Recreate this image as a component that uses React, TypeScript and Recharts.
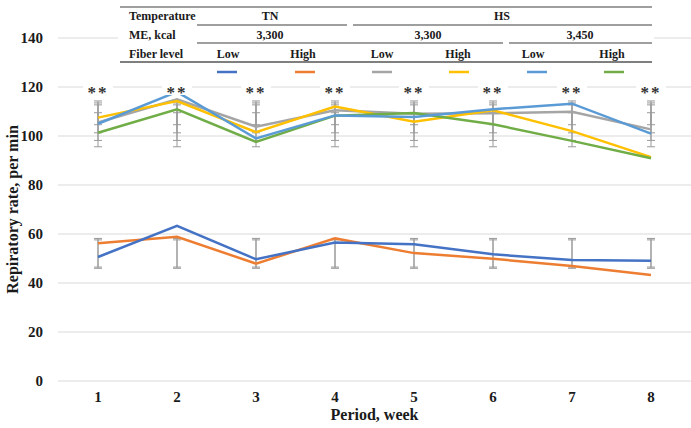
import React from 'react';
import { LineChart, Line, XAxis, YAxis, CartesianGrid, ErrorBar, LabelList } from 'recharts';

const periods = ['1', '2', '3', '4', '5', '6', '7', '8'];

// TN, ME 3,300
const tnLow = [50.6, 63.3, 49.7, 56.5, 55.8, 51.7, 49.4, 49.1];
const tnHigh = [56.2, 58.9, 47.9, 58.2, 52.2, 49.9, 46.9, 43.3];
// HS, ME 3,300
const hs3300Low = [105.5, 115, 103.8, 110.5, 109.1, 109.3, 109.9, 102.7];
const hs3300High = [107.5, 114.3, 101.6, 112, 105.8, 110.5, 102, 91.4];
// HS, ME 3,450
const hs3450Low = [105, 118, 99, 108.4, 107.8, 110.9, 113.2, 101];
const hs3450High = [101.3, 110.9, 97.6, 108.3, 109.4, 104.8, 98, 90.9];

// error bars are drawn around a fixed level for each group, as in the source figure
const hsErrCenter = [105, 105, 105, 105, 105, 105, 105, 105];
const hsErrA = [9.4, 9.3];
const hsErrB = [6.8, 8.5];
const hsErrC = [3.7, 7.7];
const hsErrD = [0.4, 4.5];
const tnErrCenter = [52, 52, 52, 52, 52, 52, 52, 52];
const tnErrA = [6.0, 6.2];
const tnErrB = [5.5, 5.6];

// significance markers
const sigLevel = [119.2, 119.2, 119.2, 119.2, 119.2, 119.2, 119.2, 119.2];
const sigText = ['**', '**', '**', '**', '**', '**', '**', '**'];

const yTicks = [0, 20, 40, 60, 80, 100, 120, 140];

const data = periods.map((p, i) => ({
  period: p,
  tnLow: tnLow[i],
  tnHigh: tnHigh[i],
  hs3300Low: hs3300Low[i],
  hs3300High: hs3300High[i],
  hs3450Low: hs3450Low[i],
  hs3450High: hs3450High[i],
  hsCenter: hsErrCenter[i],
  hsA: hsErrA,
  hsB: hsErrB,
  hsC: hsErrC,
  hsD: hsErrD,
  tnCenter: tnErrCenter[i],
  tnA: tnErrA,
  tnB: tnErrB,
  sig: sigLevel[i],
  sigText: sigText[i],
}));

const FONT = '"Liberation Serif", "Times New Roman", serif';
const ERR = '#999999';

const SigMark = (props: any) => {
  const { x, y, value } = props;
  return (
    <g>
      <rect x={x - 15} y={y - 8} width={30} height={14} fill="#fff" />
      <text x={x} y={y + 9} textAnchor="middle" fontFamily={FONT} fontWeight="bold" fontSize={17} fill="#333" letterSpacing={2}>
        {value}
      </text>
    </g>
  );
};

const HeaderTable = () => {
  const t = { fontFamily: FONT, fontWeight: 'bold' as const, fontSize: 12, fill: '#1a1a1a' };
  const ln = { stroke: '#7f7f7f', strokeWidth: 1.3 };
  return (
    <svg width={691} height={80} style={{ position: 'absolute', left: 0, top: 0 }}>
      <rect x={118} y={0} width={536} height={79} fill="#fff" />
      <line x1={120} y1={7} x2={652} y2={7} {...ln} />
      <text x={129} y={20} {...t}>Temperature</text>
      <text x={270} y={20} textAnchor="middle" {...t}>TN</text>
      <text x={502} y={20} textAnchor="middle" {...t}>HS</text>
      <line x1={197} y1={25} x2={347} y2={25} {...ln} />
      <line x1={353} y1={25} x2={652} y2={25} {...ln} />
      <text x={129} y={39} {...t}>ME, kcal</text>
      <text x={270} y={39} textAnchor="middle" {...t}>3,300</text>
      <text x={428} y={39} textAnchor="middle" {...t}>3,300</text>
      <text x={580} y={39} textAnchor="middle" {...t}>3,450</text>
      <line x1={197} y1={43} x2={503} y2={43} {...ln} />
      <line x1={509} y1={43} x2={652} y2={43} {...ln} />
      <text x={129} y={58} {...t}>Fiber level</text>
      <text x={228} y={58} textAnchor="middle" {...t}>Low</text>
      <text x={303} y={58} textAnchor="middle" {...t}>High</text>
      <text x={382} y={58} textAnchor="middle" {...t}>Low</text>
      <text x={458} y={58} textAnchor="middle" {...t}>High</text>
      <text x={533} y={58} textAnchor="middle" {...t}>Low</text>
      <text x={612} y={58} textAnchor="middle" {...t}>High</text>
      <line x1={120} y1={62} x2={652} y2={62} stroke="#7f7f7f" strokeWidth={1.8} />
      <line x1={217} y1={72} x2={237} y2={72} stroke="#4472C4" strokeWidth={2.5} />
      <line x1={295} y1={72} x2={315} y2={72} stroke="#ED7D31" strokeWidth={2.5} />
      <line x1={372} y1={72} x2={392} y2={72} stroke="#A5A5A5" strokeWidth={2.5} />
      <line x1={449} y1={72} x2={469} y2={72} stroke="#FFC000" strokeWidth={2.5} />
      <line x1={527} y1={72} x2={547} y2={72} stroke="#5B9BD5" strokeWidth={2.5} />
      <line x1={604} y1={72} x2={624} y2={72} stroke="#70AD47" strokeWidth={2.5} />
    </svg>
  );
};

export default function App() {
  const tick = { fontFamily: FONT, fontWeight: 'bold' as const, fontSize: 15, fill: '#1a1a1a' };
  return (
    <div style={{ position: 'fixed', left: 0, top: 0, width: 691, height: 428, background: '#fff', overflow: 'hidden' }}>
      <LineChart width={691} height={428} data={data} margin={{ top: 38, right: 0, bottom: 0, left: 0 }}>
        <CartesianGrid vertical={false} stroke="#d9d9d9" />
        <XAxis
          dataKey="period"
          axisLine={false}
          tickLine={false}
          tickSize={0}
          tickMargin={10}
          height={47}
          padding={{ left: 40, right: 40 }}
          tick={tick}
          label={{ value: 'Period, week', position: 'insideBottom', offset: 8, style: { fontFamily: FONT, fontWeight: 'bold', fontSize: 16, fill: '#1a1a1a' } }}
        />
        <YAxis
          domain={[0, 140]}
          ticks={yTicks}
          width={58}
          axisLine={false}
          tickLine={false}
          tickSize={0}
          tickMargin={15}
          tick={tick}
          label={{ value: 'Repiratory rate, per min', angle: -90, position: 'insideLeft', offset: 12, style: { textAnchor: 'middle', fontFamily: FONT, fontWeight: 'bold', fontSize: 16, fill: '#1a1a1a' } }}
        />
        <Line dataKey="sig" stroke="none" dot={false} activeDot={false} legendType="none" isAnimationActive={false}>
          <LabelList dataKey="sigText" content={SigMark} />
        </Line>
        <Line dataKey="hsCenter" stroke="none" dot={false} activeDot={false} legendType="none" isAnimationActive={false}>
          <ErrorBar dataKey="hsA" width={4} stroke={ERR} strokeWidth={1} direction="y" isAnimationActive={false} />
          <ErrorBar dataKey="hsB" width={4} stroke={ERR} strokeWidth={1} direction="y" isAnimationActive={false} />
          <ErrorBar dataKey="hsC" width={4} stroke={ERR} strokeWidth={1} direction="y" isAnimationActive={false} />
          <ErrorBar dataKey="hsD" width={4} stroke={ERR} strokeWidth={1} direction="y" isAnimationActive={false} />
        </Line>
        <Line dataKey="tnCenter" stroke="none" dot={false} activeDot={false} legendType="none" isAnimationActive={false}>
          <ErrorBar dataKey="tnA" width={4} stroke={ERR} strokeWidth={1} direction="y" isAnimationActive={false} />
          <ErrorBar dataKey="tnB" width={4} stroke={ERR} strokeWidth={1} direction="y" isAnimationActive={false} />
        </Line>
        <Line type="linear" dataKey="tnHigh" stroke="#ED7D31" strokeWidth={2.5} dot={false} isAnimationActive={false} />
        <Line type="linear" dataKey="tnLow" stroke="#4472C4" strokeWidth={2.5} dot={false} isAnimationActive={false} />
        <Line type="linear" dataKey="hs3300Low" stroke="#A5A5A5" strokeWidth={2.5} dot={false} isAnimationActive={false} />
        <Line type="linear" dataKey="hs3300High" stroke="#FFC000" strokeWidth={2.5} dot={false} isAnimationActive={false} />
        <Line type="linear" dataKey="hs3450High" stroke="#70AD47" strokeWidth={2.5} dot={false} isAnimationActive={false} />
        <Line type="linear" dataKey="hs3450Low" stroke="#5B9BD5" strokeWidth={2.5} dot={false} isAnimationActive={false} />
      </LineChart>
      <HeaderTable />
    </div>
  );
}
